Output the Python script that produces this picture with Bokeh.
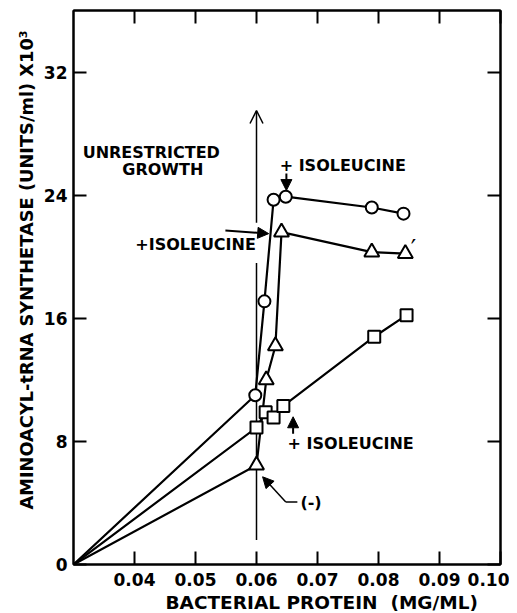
from bokeh.plotting import figure
from bokeh.models import (Range1d, FixedTicker, LinearAxis, PrintfTickFormatter,
                          CustomJSTickFormatter, Arrow, NormalHead, OpenHead, Label, Title)
from bokeh.embed import file_html
from bokeh.resources import INLINE

FONT = "DejaVu Sans"

# ---- data ----
origin_x = 0.030
origin_y = 0.0

circle_x = [0.0598, 0.0613, 0.0628, 0.0648, 0.0789, 0.0841]
circle_y = [11.0, 17.1, 23.7, 23.9, 23.2, 22.8]

triangle_x = [0.0600, 0.0616, 0.0631, 0.0641, 0.0789, 0.0844]
triangle_y = [6.45, 12.0, 14.2, 21.6, 20.3, 20.2]

square_x = [0.0600, 0.0615, 0.0628, 0.0644, 0.0793, 0.0846]
square_y = [8.9, 9.9, 9.55, 10.3, 14.8, 16.2]

x_ticks = [0.04, 0.05, 0.06, 0.07, 0.08, 0.09, 0.10]
y_ticks = [0, 8, 16, 24, 32]

x_title = "BACTERIAL PROTEIN\u00a0 (MG/ML)"
y_title = "AMINOACYL-tRNA SYNTHETASE (UNITS/ml) X10\u00b3"

p = figure(width=509, height=613, x_range=Range1d(0.03, 0.10), y_range=Range1d(0, 36),
           output_backend="svg", toolbar_location=None,
           min_border_left=73, min_border_right=9, min_border_top=10, min_border_bottom=40)
p.grid.visible = False
p.outline_line_color = "black"
p.outline_line_width = 2
p.background_fill_color = "white"
p.border_fill_color = "white"


def style_axis(ax, ticks, labels=True):
    ax.ticker = FixedTicker(ticks=ticks)
    ax.axis_line_color = "black"
    ax.axis_line_width = 2
    ax.major_tick_in = 13
    ax.major_tick_out = 0
    ax.major_tick_line_width = 2
    ax.minor_tick_line_color = None
    if labels:
        ax.major_label_text_font = FONT
        ax.major_label_text_font_style = "bold"
        ax.major_label_text_font_size = "17px"
        ax.major_label_text_color = "black"
    else:
        ax.formatter = CustomJSTickFormatter(code="return '';")
        ax.major_label_standoff = 0


style_axis(p.xaxis[0], x_ticks)
p.xaxis[0].formatter = PrintfTickFormatter(format="%.2f")
p.xaxis[0].major_label_standoff = 8
style_axis(p.yaxis[0], y_ticks)
p.yaxis[0].major_label_standoff = 6

top = LinearAxis()
style_axis(top, x_ticks, labels=False)
p.add_layout(top, "above")
right = LinearAxis()
style_axis(right, y_ticks, labels=False)
p.add_layout(right, "right")

# axis titles
p.add_layout(Title(text=x_title, text_font=FONT, text_font_style="bold",
                   text_font_size="18.5px", text_color="black", align="left",
                   offset=92, standoff=2), "below")
p.add_layout(Title(text=y_title, text_font=FONT, text_font_style="bold",
                   text_font_size="17.8px", text_color="black", align="left",
                   offset=55, standoff=8), "left")

# ---- annotation lines (under the markers) ----
p.segment(x0=[0.060], y0=[1.6], x1=[0.060], y1=[19.6], line_color="black", line_width=1.5,
          level="underlay")
p.add_layout(Arrow(end=OpenHead(size=13, line_width=1.5), x_start=0.060, y_start=22.2,
                   x_end=0.060, y_end=29.5, line_width=1.5, level="underlay"))
p.add_layout(Arrow(end=NormalHead(size=11, fill_color="black", line_color="black"),
                   x_start=0.0549, y_start=21.7, x_end=0.0620, y_end=21.5, line_width=2,
                   level="underlay"))
p.add_layout(Arrow(end=NormalHead(size=11, fill_color="black", line_color="black"),
                   x_start=0.0649, y_start=25.4, x_end=0.0649, y_end=24.3, line_width=2,
                   level="underlay"))
p.add_layout(Arrow(end=NormalHead(size=11, fill_color="black", line_color="black"),
                   x_start=0.0660, y_start=8.5, x_end=0.0660, y_end=9.6, line_width=2,
                   level="underlay"))
p.segment(x0=[0.0667], y0=[4.06], x1=[0.0648], y1=[4.06], line_color="black", line_width=1.5)
p.add_layout(Arrow(end=NormalHead(size=11, fill_color="black", line_color="black"),
                   x_start=0.0648, y_start=4.06, x_end=0.0610, y_end=5.7, line_width=1.5))

# ---- series ----
lw = 2.2
p.line([origin_x] + circle_x, [origin_y] + circle_y, line_color="black", line_width=lw)
p.line([origin_x] + triangle_x, [origin_y] + triangle_y, line_color="black", line_width=lw)
p.line([origin_x] + square_x, [origin_y] + square_y, line_color="black", line_width=lw)

p.scatter(square_x, square_y, marker="square", size=12, fill_color="white",
          line_color="black", line_width=2)
p.scatter(triangle_x, triangle_y, marker="triangle", size=15, fill_color="white",
          line_color="black", line_width=2)
p.scatter(circle_x, circle_y, marker="circle", size=12, fill_color="white",
          line_color="black", line_width=2)


# ---- texts ----
def txt(x, y, s, align="left", size="16px", style="bold"):
    p.add_layout(Label(x=x, y=y, text=s, text_font=FONT, text_font_style=style,
                       text_font_size=size, text_color="black", text_align=align,
                       text_baseline="middle"))


txt(0.0315, 26.8, "UNRESTRICTED")
txt(0.0380, 25.7, "GROWTH")
txt(0.0599, 20.8, "+ISOLEUCINE", align="right")
txt(0.0638, 25.9, "+ ISOLEUCINE")
txt(0.0651, 7.87, "+ ISOLEUCINE")
txt(0.0672, 4.06, "(-)")
txt(0.0853, 20.5, "\u2032", size="24px", style="normal")

open("out.html", "w").write(file_html(p, INLINE))
